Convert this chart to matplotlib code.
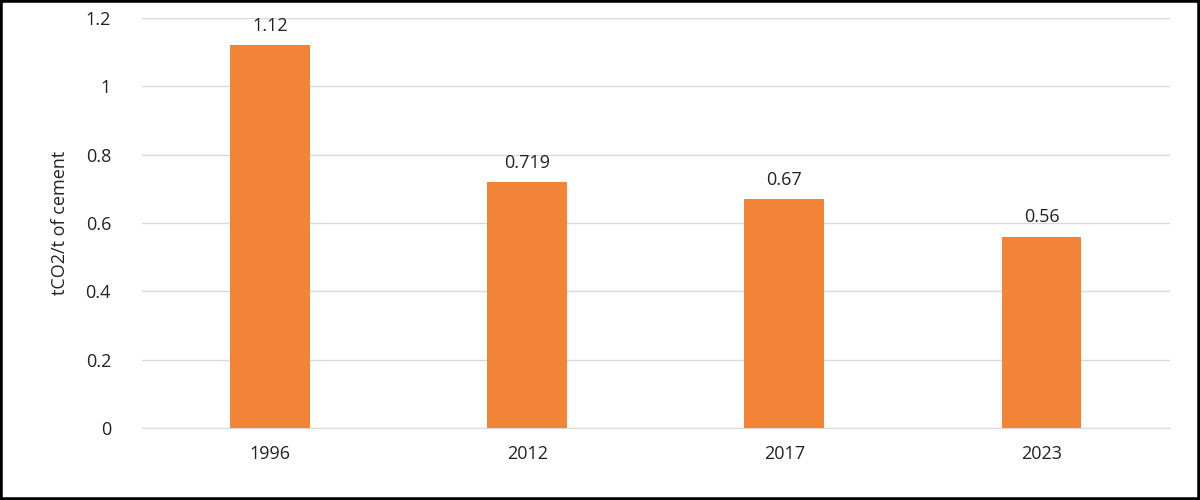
import matplotlib
matplotlib.use("Agg")
import matplotlib.pyplot as plt
from matplotlib.patches import Rectangle

plt.rcParams['font.family'] = ['Open Sans', 'DejaVu Sans']

years = ["1996", "2012", "2017", "2023"]
values = [1.12, 0.719, 0.67, 0.56]
labels = ["1.12", "0.719", "0.67", "0.56"]

fig = plt.figure(figsize=(12, 5), dpi=100)
ax = fig.add_axes([0.118, 0.144, 0.857, 0.82])
x = range(len(years))
ax.bar(x, values, width=0.31, color="#F28438", zorder=3)
for i, (v, l) in enumerate(zip(values, labels)):
    ax.text(i, v + 0.03, l, ha="center", va="bottom", fontsize=13, color="#222222")
ax.set_xlim(-0.5, 3.5)
ax.set_ylim(0, 1.2)
ax.set_yticks([0, 0.2, 0.4, 0.6, 0.8, 1, 1.2])
ax.set_yticklabels(["0", "0.2", "0.4", "0.6", "0.8", "1", "1.2"])
ax.set_xticks(list(x))
ax.set_xticklabels(years)
ax.tick_params(axis="both", length=0, labelsize=13, colors="#222222")
ax.tick_params(axis="y", pad=22)
ax.tick_params(axis="x", pad=12)
ax.grid(axis="y", color="#d9d9d9", linewidth=1, zorder=0)
for s in ["top", "right", "left"]:
    ax.spines[s].set_visible(False)
ax.spines["bottom"].set_color("#d9d9d9")
ax.set_ylabel("tCO2/t of cement", fontsize=13, color="#222222", labelpad=12)
fig.patches.append(Rectangle((0, 0), 1, 1, transform=fig.transFigure,
                             fill=False, edgecolor="black", linewidth=4))
fig.savefig("out.png", dpi=100)
